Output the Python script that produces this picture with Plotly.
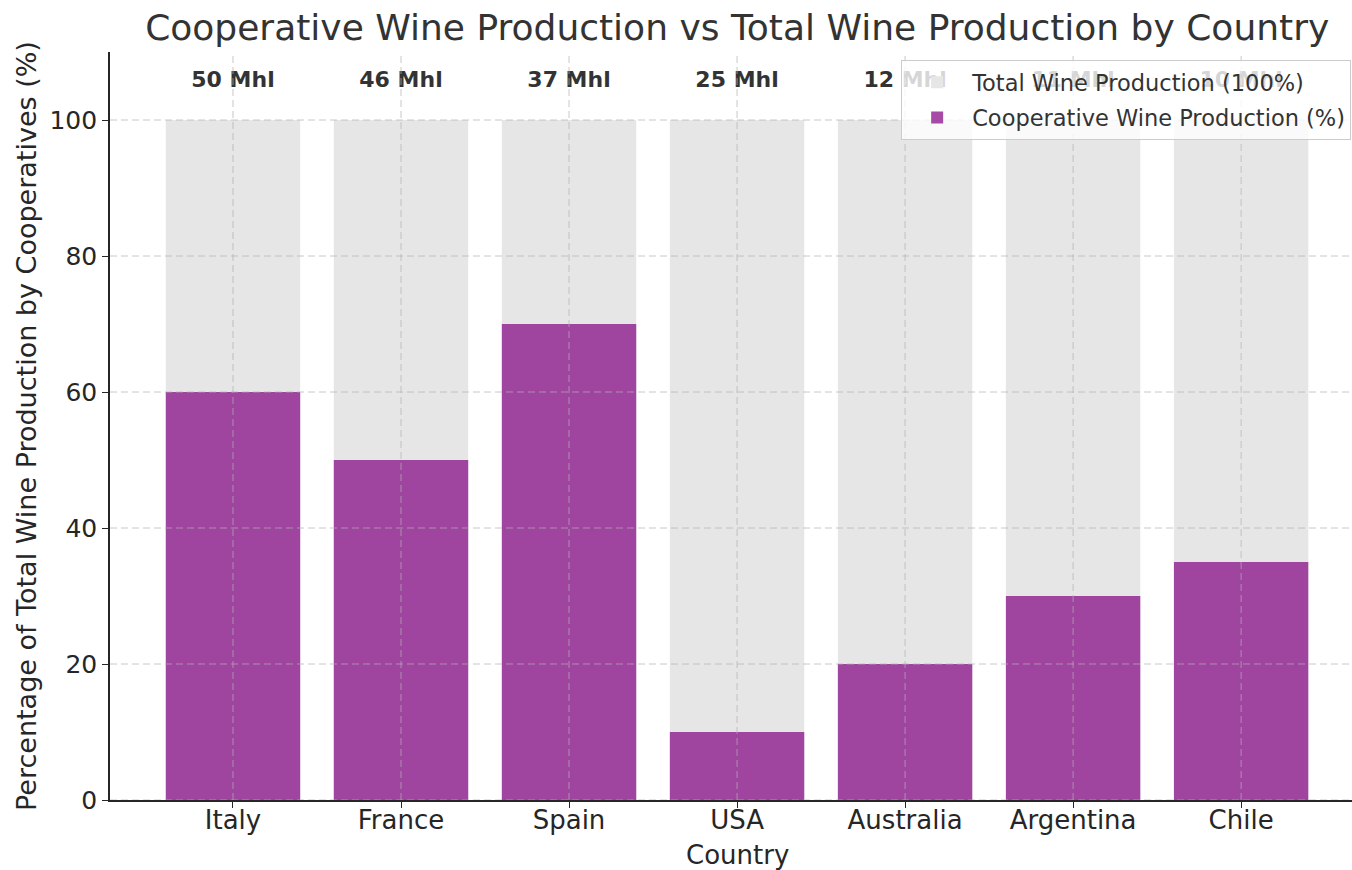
import plotly.graph_objects as go

countries = ["Italy", "France", "Spain", "USA", "Australia", "Argentina", "Chile"]
total_pct = [100, 100, 100, 100, 100, 100, 100]
coop_pct = [60, 50, 70, 10, 20, 30, 35]
total_mhl = [50, 46, 37, 25, 12, 11, 10]
label_y = [104.1] * len(countries)
y_ticks = [0, 20, 40, 60, 80, 100]

FONT = "DejaVu Sans"
TXT = "#262626"

x_idx = list(range(len(countries)))

fig = go.Figure()
fig.add_trace(go.Bar(
    x=x_idx, y=total_pct, width=0.8, name="Total Wine Production (100%)",
    legendgroup="a",
    marker=dict(color="#e6e6e6", line=dict(width=0)),
))
fig.add_trace(go.Bar(
    x=x_idx, y=coop_pct, width=0.8, name="Cooperative Wine Production (%)",
    legendgroup="b",
    marker=dict(color="rgba(128,0,128,0.7)", line=dict(width=0)),
))
fig.add_trace(go.Scatter(
    x=x_idx, y=label_y, mode="text",
    text=[f"{v} Mhl" for v in total_mhl],
    textposition="top center",
    textfont=dict(family=FONT, size=22, color="#333333", weight="bold"),
    showlegend=False, hoverinfo="skip",
))

grid_col = "rgba(176,176,176,0.7)"
for v in y_ticks:
    fig.add_shape(type="line", xref="x domain", yref="y", x0=0, x1=1, y0=v, y1=v,
                  line=dict(color=grid_col, width=1, dash="7px,4px"), layer="above")
for i in x_idx:
    fig.add_shape(type="line", xref="x", yref="y domain", x0=i, x1=i, y0=0, y1=1,
                  line=dict(color=grid_col, width=1, dash="7px,4px"), layer="above")

fig.add_annotation(text="Country", xref="paper", yref="paper",
                   x=(737 - 110) / 1242, y=(800 - 855) / 748,
                   xanchor="center", yanchor="middle", showarrow=False,
                   font=dict(family=FONT, size=26, color=TXT))
fig.add_annotation(text="Percentage of Total Wine Production by Cooperatives (%)",
                   xref="paper", yref="paper",
                   x=(26 - 110) / 1242, y=0.5, textangle=-90,
                   xanchor="center", yanchor="middle", showarrow=False,
                   font=dict(family=FONT, size=27, color=TXT))

fig.update_layout(
    width=1352, height=870,
    margin=dict(l=110, r=0, t=52, b=70),
    barmode="overlay",
    plot_bgcolor="white", paper_bgcolor="white",
    font=dict(family=FONT, color=TXT),
    title=dict(
        text="Cooperative Wine Production vs Total Wine Production by Country",
        x=0.505, xref="paper", xanchor="center",
        y=1 - 27 / 870, yref="container", yanchor="middle",
        font=dict(family=FONT, size=36, color="#333333"),
    ),
    legend=dict(
        x=0.637, y=0.989, xanchor="left", yanchor="top",
        bgcolor="rgba(255,255,255,0.8)", bordercolor="#cccccc", borderwidth=1,
        font=dict(family=FONT, size=22.5, color="#333333"),
        traceorder="grouped", tracegroupgap=3, itemwidth=60,
    ),
    showlegend=True,
)
fig.update_xaxes(
    range=[-0.732, 6.66], tickmode="array", tickvals=x_idx, ticktext=countries,
    showgrid=False, zeroline=False, automargin=False,
    showline=True, linecolor=TXT, linewidth=1.6,
    ticks="outside", ticklen=6, tickwidth=1.4, tickcolor=TXT,
    ticklabelstandoff=-10,
    tickfont=dict(family=FONT, size=26, color=TXT),
)
fig.update_yaxes(
    range=[0, 110], tickmode="array", tickvals=y_ticks,
    showgrid=False, zeroline=False, automargin=False,
    showline=True, linecolor=TXT, linewidth=1.6,
    ticks="outside", ticklen=6, tickwidth=1.4, tickcolor=TXT,
    tickfont=dict(family=FONT, size=25, color=TXT),
)

fig.write_html("out.html")
